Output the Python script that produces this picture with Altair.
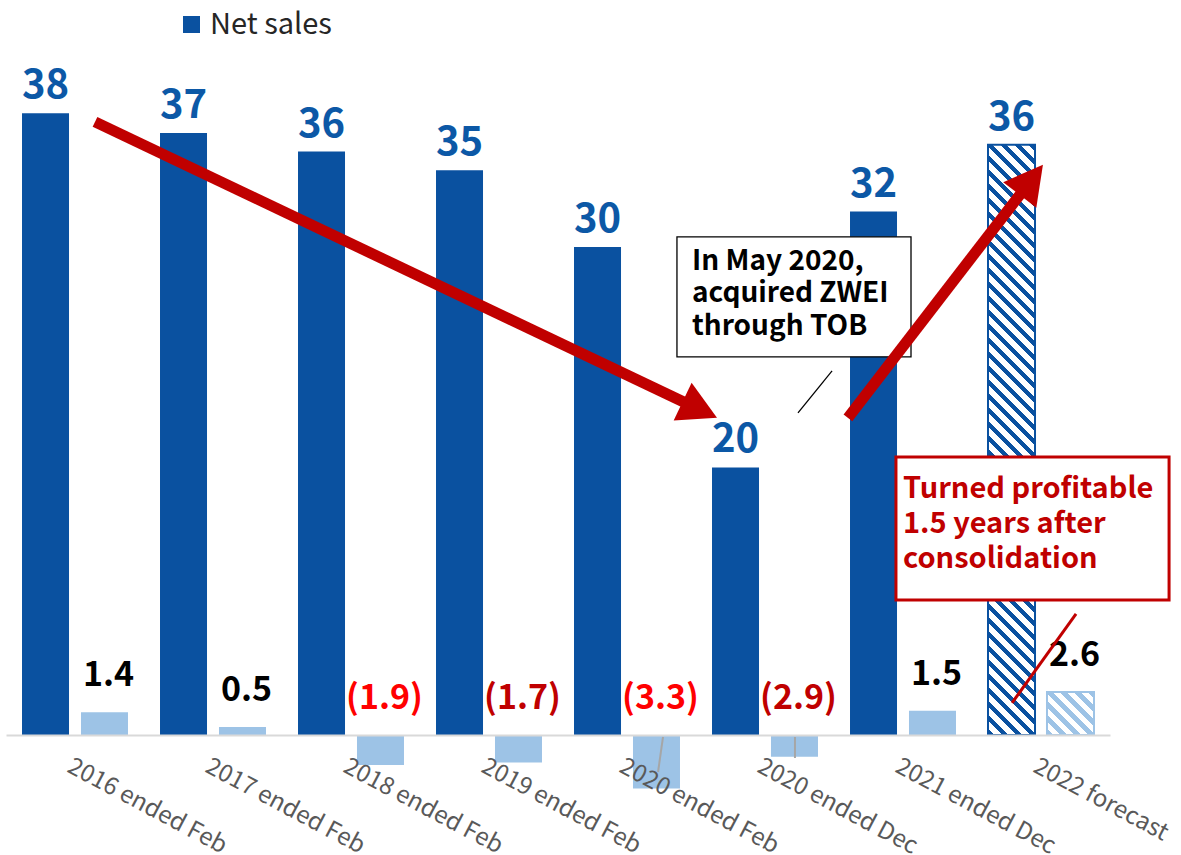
import altair as alt
import pandas as pd

# ---------------- data ----------------
categories = ["2016 ended Feb", "2017 ended Feb", "2018 ended Feb", "2019 ended Feb",
              "2020 ended Feb", "2020 ended Dec", "2021 ended Dec", "2022 forecast"]
# labelled values
net_sales = [38, 37, 36, 35, 30, 20, 32, 36]
profit = [1.4, 0.5, -1.9, -1.7, -3.3, -2.9, 1.5, 2.6]
# bar lengths as drawn in the picture
net_sales_bar = [38.0, 37.0, 36.05, 35.1, 31.2, 20.0, 33.0, 36.4]
profit_bar = [1.4, 0.5, -1.85, -1.7, -3.3, -1.35, 1.5, 2.65]
forecast = "2022 forecast"
dark_red_labels = ["2019 ended Feb", "2020 ended Dec"]

# annotation geometry in (category index, net-sales units)
arrow_x = [0.645, 6.101]
arrow_y = [37.56, 22.52]
arrow_shaft_x2 = [4.972, 7.401]
arrow_shaft_y2 = [23.12, 34.35]
arrow_tip_x = [5.152, 7.514]
arrow_tip_y = [22.52, 35.38]
arrow_angle = [25.4, 307.6]

box_text_1 = ["In May 2020,", "acquired ZWEI", "through TOB"]
box_text_2 = ["Turned profitable", "1.5 years after", "consolidation"]

# ---------------- styles ----------------
FONT = "Noto Sans CJK JP"
BLUE = "#0a51a0"
BLUE_TXT = "#0c58a6"
LIGHT = "#9dc3e6"
RED = "#c00000"
BASE = 6.4  # net-sales value at the axis line


def hatch(color, w, h, period=14.0, frac=0.45):
    lam = (w + h) / (w ** 2 + h ** 2)
    n = (w + h) / period
    stops = []
    k = 0
    while k < n:
        a = k / n
        b = min((k + frac) / n, 1.0)
        c = min((k + 1) / n, 1.0)
        stops += [{"offset": a, "color": color}, {"offset": b, "color": color},
                  {"offset": b, "color": "#ffffff"}, {"offset": c, "color": "#ffffff"}]
        k += 1
    return {"gradient": "linear", "x1": 0, "y1": 1, "x2": lam * w, "y2": 1 - lam * h,
            "stops": stops}


df = pd.DataFrame({"cat": categories, "sales": net_sales, "profit": profit,
                   "sales_bar": net_sales_bar, "profit_bar": profit_bar})
df["ss"] = "sales"
df["sp"] = "profit"
df["legend"] = "Net sales"

x_scale = alt.Scale(domain=categories, paddingInner=0.232, paddingOuter=0.116)
xo_scale = alt.Scale(domain=["sales", "profit"], paddingInner=0.203, paddingOuter=0)
y_sales = alt.Scale(domain=[BASE, 43.5], zero=False, nice=False)
y_profit = alt.Scale(domain=[0, 45.06], nice=False)

x_axis = alt.Axis(labelAngle=28, labelAlign="left", labelBaseline="top", labelPadding=19,
                  labelFontSize=24, labelFont=FONT, labelColor="#595959", ticks=False,
                  domainColor="#d9d9d9", domainWidth=2, title=None, zindex=1,
                  labelLimit=400, labelOverlap=False)


def xb(axis=None):
    return alt.X("cat:N", scale=x_scale, axis=axis, title=None)


base = alt.Chart(df)

sales_bars = base.transform_filter(alt.datum.cat != forecast).mark_bar().encode(
    x=xb(x_axis),
    xOffset=alt.XOffset("ss:N", scale=xo_scale),
    y=alt.Y("sales_bar:Q", scale=y_sales, axis=None),
    y2=alt.datum(BASE),
    color=alt.Color("legend:N", scale=alt.Scale(domain=["Net sales"], range=[BLUE]),
                    legend=alt.Legend(orient="none", legendX=171, legendY=5, title=None,
                                      symbolType="square", symbolSize=289,
                                      symbolStrokeWidth=0, labelFontSize=29,
                                      labelFont=FONT, labelColor="#262626",
                                      labelOffset=4, padding=0)),
)

sales_hatch = base.transform_filter(alt.datum.cat == forecast).mark_bar(
    fill=hatch(BLUE, 47, 590), stroke=BLUE, strokeWidth=2).encode(
    x=xb(), xOffset=alt.XOffset("ss:N", scale=xo_scale),
    y=alt.Y("sales_bar:Q", scale=y_sales, axis=None),
    y2=alt.datum(BASE),
)

profit_bars = base.transform_filter(alt.datum.cat != forecast).mark_bar(color=LIGHT).encode(
    x=xb(), xOffset=alt.XOffset("sp:N", scale=xo_scale),
    y=alt.Y("profit_bar:Q", scale=y_profit, axis=None),
)

profit_hatch = base.transform_filter(alt.datum.cat == forecast).mark_bar(
    fill=hatch(LIGHT, 47, 43), stroke=LIGHT, strokeWidth=2).encode(
    x=xb(), xOffset=alt.XOffset("sp:N", scale=xo_scale),
    y=alt.Y("profit_bar:Q", scale=y_profit, axis=None),
)

sales_labels = base.mark_text(font=FONT, fontSize=40, fontWeight="bold", color=BLUE_TXT,
                              baseline="alphabetic", dy=-15).encode(
    x=xb(), xOffset=alt.XOffset("ss:N", scale=xo_scale),
    y=alt.Y("sales_bar:Q", scale=y_sales, axis=None),
    text=alt.Text("sales:Q"),
)

profit_labels = base.transform_calculate(
    ly="max(datum.profit_bar, 0)",
    lbl="datum.profit < 0 ? '(' + format(-datum.profit, '.1f') + ')' : format(datum.profit, '.1f')",
).mark_text(font=FONT, fontSize=34, fontWeight="bold", baseline="alphabetic", dy=-26, dx=4).encode(
    x=xb(), xOffset=alt.XOffset("sp:N", scale=xo_scale),
    y=alt.Y("ly:Q", scale=y_profit, axis=None),
    text="lbl:N",
    color=alt.when(alt.datum.profit >= 0).then(alt.value("#000000"))
    .when(alt.FieldOneOfPredicate(field="cat", oneOf=dark_red_labels)).then(alt.value(RED))
    .otherwise(alt.value("#ff0000")),
)

# ---------------- annotations ----------------
xa = alt.Scale(domain=[0, 8], nice=False, zero=False)
ya = alt.Scale(domain=[BASE, 43.5], nice=False, zero=False)


def ax(f):
    return alt.X(f, type="quantitative", scale=xa, axis=None)


def ay(f):
    return alt.Y(f, type="quantitative", scale=ya, axis=None)


boxes = pd.DataFrame({
    "x": [4.862, 6.449], "x2": [6.558, 8.428],
    "y": [31.72, 20.53], "y2": [25.62, 13.26],
    "kind": ["black", "red"],
})
box1 = alt.Chart(boxes[boxes.kind == "black"]).mark_rect(fill="white", stroke="#000000", strokeWidth=1.3).encode(
    x=ax("x"), x2="x2", y=ay("y"), y2="y2")
box2 = alt.Chart(boxes[boxes.kind == "red"]).mark_rect(fill="white", stroke=RED, strokeWidth=3).encode(
    x=ax("x"), x2="x2", y=ay("y"), y2="y2")

texts = pd.DataFrame({"x": [4.971, 6.5], "y": [30.04, 18.45],
                      "t": [box_text_1, box_text_2], "kind": ["black", "red"]})
text1 = alt.Chart(texts[texts.kind == "black"]).mark_text(
    font=FONT, fontSize=28, fontWeight="bold", align="left", baseline="alphabetic",
    lineHeight=32.5, color="#000000").encode(x=ax("x"), y=ay("y"), text="t")
text2 = alt.Chart(texts[texts.kind == "red"]).mark_text(
    font=FONT, fontSize=29, fontWeight="bold", align="left", baseline="alphabetic",
    lineHeight=35, color=RED).encode(x=ax("x"), y=ay("y"), text="t")

arrows = pd.DataFrame({"x": arrow_x, "y": arrow_y, "x2": arrow_shaft_x2, "y2": arrow_shaft_y2,
                       "tx": arrow_tip_x, "ty": arrow_tip_y, "ang": arrow_angle})
shafts = alt.Chart(arrows).mark_rule(color=RED, strokeWidth=11, strokeCap="butt").encode(
    x=ax("x"), y=ay("y"), x2="x2", y2="y2")
heads = alt.Chart(arrows).mark_point(
    shape="M 0 0 L -2 -1.1 L -2 1.1 Z", size=1444, filled=True, fill=RED, opacity=1,
    strokeWidth=0).encode(x=ax("tx"), y=ay("ty"), angle=alt.Angle("ang:Q", scale=None))

leaders = pd.DataFrame({
    "x": [5.739, 7.29, 4.761, 5.717], "x2": [5.986, 7.754, 4.725, 5.717],
    "y": [22.77, 8.03, 6.3, 6.3], "y2": [24.91, 12.55, 4.52, 5.23],
    "kind": ["black", "red", "gray", "gray"],
})
lead_black = alt.Chart(leaders[leaders.kind == "black"]).mark_rule(color="#000000", strokeWidth=1.3).encode(
    x=ax("x"), y=ay("y"), x2="x2", y2="y2")
lead_red = alt.Chart(leaders[leaders.kind == "red"]).mark_rule(color=RED, strokeWidth=3).encode(
    x=ax("x"), y=ay("y"), x2="x2", y2="y2")
lead_gray = alt.Chart(leaders[leaders.kind == "gray"]).mark_rule(color="#a6a6a6", strokeWidth=2).encode(
    x=ax("x"), y=ay("y"), x2="x2", y2="y2")

chart = alt.layer(
    sales_bars, sales_hatch, profit_bars, profit_hatch, sales_labels, profit_labels,
    lead_gray, box1, box2, text1, text2, shafts, heads, lead_black, lead_red,
).resolve_scale(x="independent", y="independent", color="independent").properties(
    width=1104, height=730,
    autosize=alt.AutoSizeParams(type="none"),
    padding={"left": 6, "top": 5, "right": 71, "bottom": 120},
).configure_view(stroke=None)

chart.save("out.html", embed_options={"renderer": "svg", "actions": False})
